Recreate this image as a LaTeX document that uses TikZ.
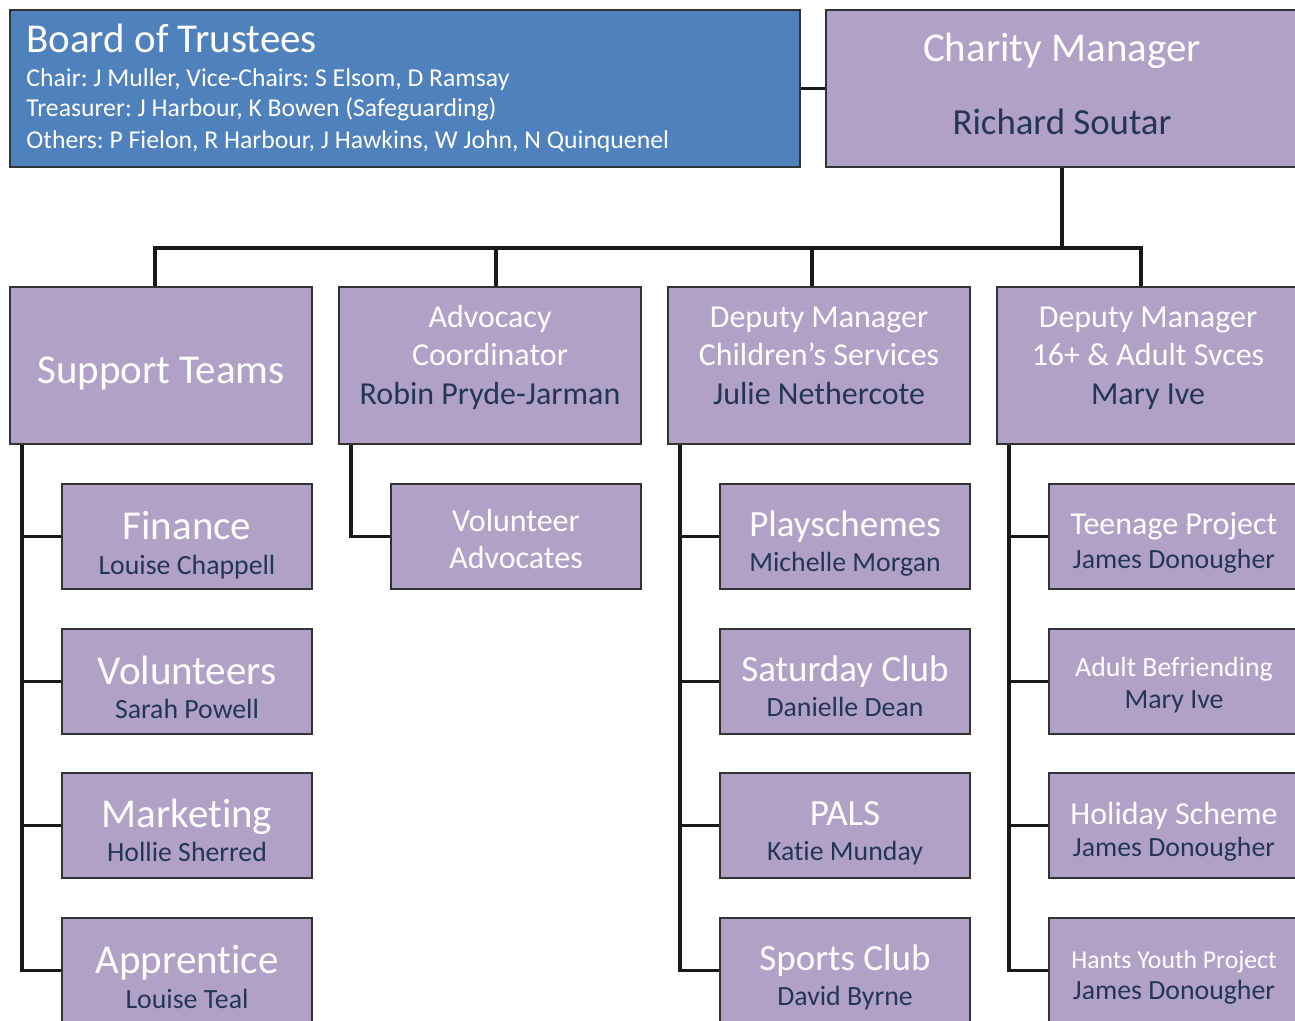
\documentclass[tikz,border=0pt]{standalone}
\usepackage{fontspec}
\setmainfont{Carlito}[Ligatures=NoCommon]
\usetikzlibrary{calc}
\frenchspacing

\definecolor{unitfill}{HTML}{B2A1C7}
\definecolor{boardfill}{HTML}{4F81BD}
\definecolor{namenavy}{HTML}{233558}

\tikzset{
  unit/.style={draw=black!80, line width=1pt, fill=unitfill, inner sep=0pt,
    minimum width=151pt, minimum height=78.5pt},
  team/.style={unit, minimum width=125pt, minimum height=52.5pt},
  link/.style={line width=1.6pt, black!90},
  title/.style={anchor=base, inner sep=0pt, text=white},
  person/.style={anchor=base, inner sep=0pt, text=namenavy},
  fbig/.style={font=\fontsize{20.5pt}{24pt}\selectfont},
  fmid/.style={font=\fontsize{18.5pt}{22pt}\selectfont},
  fsub/.style={font=\fontsize{16pt}{19pt}\selectfont},
  fname/.style={font=\fontsize{13.9pt}{16pt}\selectfont},
  fsmall/.style={font=\fontsize{12.85pt}{15pt}\selectfont},
}

\begin{document}
\begin{tikzpicture}[x=0.5pt, y=-0.5pt]
  \useasboundingbox (0,0) rectangle (1295,1021);
  \clip (0,0) rectangle (1295,1021);

  % top level
  \node[unit, fill=boardfill, minimum width=395pt] (board) at (405,88.5) {};
  \node[unit, minimum width=236pt] (cm) at (1062,88.5) {};

  \node[title, fbig, anchor=base west] at ($(board.north west)+(17,44)$) {Board of Trustees};
  \node[title, fsmall, anchor=base west] at ($(board.north west)+(17,78)$) {Chair: J Muller, Vice-Chairs: S Elsom, D Ramsay};
  \node[title, fsmall, anchor=base west] at ($(board.north west)+(17,108)$) {Treasurer: J Harbour, K Bowen (Safeguarding)};
  \node[title, fsmall, anchor=base west] at ($(board.north west)+(17,140)$) {Others: P Fielon, R Harbour, J Hawkins, W John, N Quinquenel};

  \node[title, fbig] at ($(cm.north)+(0,53)$) {Charity Manager};
  \node[person, font=\fontsize{18.4pt}{22pt}\selectfont] at ($(cm.north)+(0,126)$) {Richard Soutar};

  % managers
  \node[unit] (sup) at (161,365.5) {};
  \node[unit] (adv) at (490,365.5) {};
  \node[unit] (chd) at (819,365.5) {};
  \node[unit] (adl) at (1148,365.5) {};

  \node[title, fbig] at ($(sup.north)+(0,98)$) {Support Teams};

  \node[title, fsub] at ($(adv.north)+(0,42)$) {Advocacy};
  \node[title, fsub] at ($(adv.north)+(0,79)$) {Coordinator};
  \node[person, fsub] at ($(adv.north)+(0,119)$) {Robin Pryde-Jarman};

  \node[title, fsub] at ($(chd.north)+(0,42)$) {Deputy Manager};
  \node[title, fsub] at ($(chd.north)+(0,79)$) {Children’s Services};
  \node[person, fsub] at ($(chd.north)+(0,119)$) {Julie Nethercote};

  \node[title, fsub] at ($(adl.north)+(0,42)$) {Deputy Manager};
  \node[title, fsub] at ($(adl.north)+(0,79)$) {16+ \& Adult Svces};
  \node[person, fsub] at ($(adl.north)+(0,119)$) {Mary Ive};

  % support teams
  \node[team] (fin) at (187,536.5) {};
  \node[team] (vol) at (187,681.5) {};
  \node[team] (mkt) at (187,825.5) {};
  \node[team] (app) at (187,970.5) {};

  \node[title, fbig] at ($(fin.north)+(0,56)$) {Finance};
  \node[person, fname] at ($(fin.north)+(0,91)$) {Louise Chappell};
  \node[title, fbig] at ($(vol.north)+(0,56)$) {Volunteers};
  \node[person, fname] at ($(vol.north)+(0,90)$) {Sarah Powell};
  \node[title, fbig] at ($(mkt.north)+(0,55)$) {Marketing};
  \node[person, fname] at ($(mkt.north)+(0,89)$) {Hollie Sherred};
  \node[title, fbig] at ($(app.north)+(0,56)$) {Apprentice};
  \node[person, fname] at ($(app.north)+(0,91)$) {Louise Teal};

  % advocacy
  \node[team] (vadv) at (516,536.5) {};
  \node[title, fsub] at ($(vadv.north)+(0,48)$) {Volunteer};
  \node[title, fsub] at ($(vadv.north)+(0,85)$) {Advocates};

  % children's services
  \node[team] (play) at (845,536.5) {};
  \node[team] (sat) at (845,681.5) {};
  \node[team] (pals) at (845,825.5) {};
  \node[team] (sport) at (845,970.5) {};

  \node[title, fmid] at ($(play.north)+(0,53)$) {Playschemes};
  \node[person, fname] at ($(play.north)+(0,88)$) {Michelle Morgan};
  \node[title, fmid] at ($(sat.north)+(0,53)$) {Saturday Club};
  \node[person, fname] at ($(sat.north)+(0,88)$) {Danielle Dean};
  \node[title, fmid] at ($(pals.north)+(0,53)$) {PALS};
  \node[person, fname] at ($(pals.north)+(0,88)$) {Katie Munday};
  \node[title, fmid] at ($(sport.north)+(0,53)$) {Sports Club};
  \node[person, fname] at ($(sport.north)+(0,88)$) {David Byrne};

  % 16+ and adult services
  \node[team] (teen) at (1174,536.5) {};
  \node[team] (bef) at (1174,681.5) {};
  \node[team] (hol) at (1174,825.5) {};
  \node[team] (hyp) at (1174,970.5) {};

  \node[title, fsub] at ($(teen.north)+(0,51)$) {Teenage Project};
  \node[person, fname] at ($(teen.north)+(0,85)$) {James Donougher};
  \node[title, fname] at ($(bef.north)+(0,48)$) {Adult Befriending};
  \node[person, fname] at ($(bef.north)+(0,80)$) {Mary Ive};
  \node[title, fsub] at ($(hol.north)+(0,52)$) {Holiday Scheme};
  \node[person, fname] at ($(hol.north)+(0,84)$) {James Donougher};
  \node[title, fsmall] at ($(hyp.north)+(0,51)$) {Hants Youth Project};
  \node[person, fname] at ($(hyp.north)+(0,82)$) {James Donougher};

  % connectors
  \draw[link] (board.east) -- (cm.west);
  \coordinate (split) at ($(cm.south)+(0,80)$);
  \draw[link] (cm.south) -- (split);
  \draw[link] (split) -| ($(sup.north)+(-6,0)$);
  \draw[link] (split) -| ($(adv.north)+(6,0)$);
  \draw[link] (split) -| ($(chd.north)+(-7,0)$);
  \draw[link] (split) -| ($(adl.north)+(-7,0)$);

  \draw[link] ($(sup.south west)+(13,0)$) |- (fin.west);
  \draw[link] ($(sup.south west)+(13,0)$) |- (vol.west);
  \draw[link] ($(sup.south west)+(13,0)$) |- (mkt.west);
  \draw[link] ($(sup.south west)+(13,0)$) |- (app.west);

  \draw[link] ($(adv.south west)+(13,0)$) |- (vadv.west);

  \draw[link] ($(chd.south west)+(13,0)$) |- (play.west);
  \draw[link] ($(chd.south west)+(13,0)$) |- (sat.west);
  \draw[link] ($(chd.south west)+(13,0)$) |- (pals.west);
  \draw[link] ($(chd.south west)+(13,0)$) |- (sport.west);

  \draw[link] ($(adl.south west)+(13,0)$) |- (teen.west);
  \draw[link] ($(adl.south west)+(13,0)$) |- (bef.west);
  \draw[link] ($(adl.south west)+(13,0)$) |- (hol.west);
  \draw[link] ($(adl.south west)+(13,0)$) |- (hyp.west);
\end{tikzpicture}
\end{document}
